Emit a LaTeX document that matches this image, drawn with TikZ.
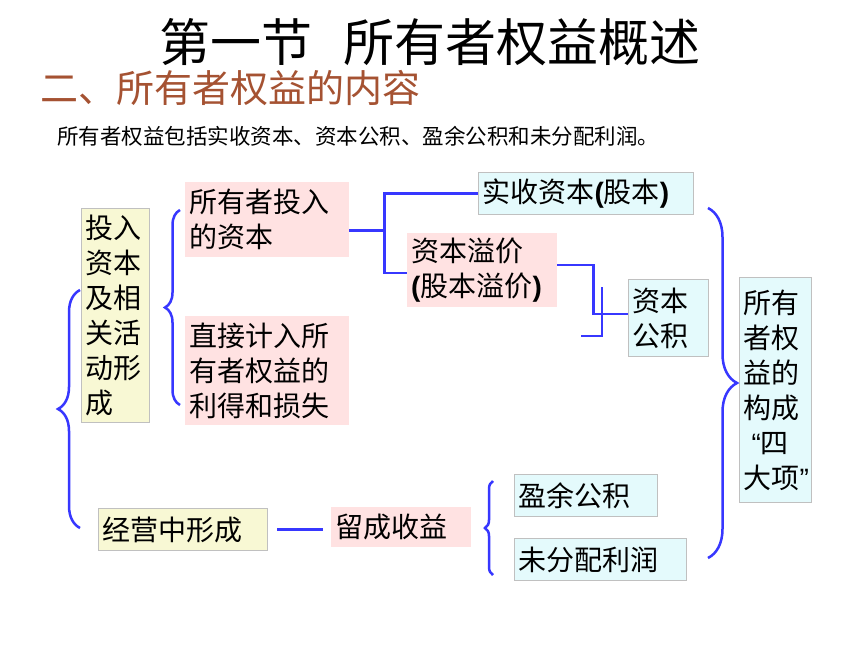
\documentclass[tikz,border=0pt]{standalone}
\usepackage{fontspec}
\setmainfont{Noto Sans CJK SC}
\newfontfamily\latinfont{Liberation Sans}
\usetikzlibrary{calc}
\usetikzlibrary{decorations.pathreplacing}
\definecolor{lineblue}{RGB}{55,55,255}
\definecolor{pinkfill}{RGB}{255,226,226}
\definecolor{yellowfill}{RGB}{248,248,212}
\definecolor{cyanfill}{RGB}{228,250,252}
\definecolor{boxgray}{RGB}{192,192,192}
\definecolor{titlebrown}{RGB}{165,82,50}
\tikzstyle{link}=[draw=lineblue, line width=2.5pt]
\tikzstyle{cell}=[anchor=north west, inner xsep=4pt, inner ysep=0pt, align=left, font=\fontsize{28}{35}\selectfont]
\tikzstyle{pinkcell}=[cell, fill=pinkfill]
\tikzstyle{yellowcell}=[cell, fill=yellowfill, draw=boxgray, line width=1pt]
\tikzstyle{cyancell}=[cell, fill=cyanfill, draw=boxgray, line width=1pt]
\newcommand{\curly}[3]{% Syntax: {start}{end}{amplitude}, the brace bulges to the left of start->end
  \draw[link, decorate, decoration={brace, amplitude=#3}] (#1) -- (#2);
}
\newcommand{\opar}{{\latinfont\bfseries (}}
\newcommand{\cpar}{{\latinfont\bfseries )}}
\newcommand{\openq}{{\latinfont “}}
\newcommand{\closeq}{{\latinfont ”}}

\begin{document}
\begin{tikzpicture}[x=1pt, y=-1pt]
	\fill[white] (0,0) rectangle (860,645);
	\useasboundingbox (0,0) rectangle (860,645);
	% headings
	\node[font=\fontsize{51}{60}\selectfont, inner sep=0pt] (title) at (430,42) {第一节\hspace{0.6em}所有者权益概述};
	\node[font=\fontsize{38}{44}\selectfont, text=titlebrown, anchor=west, inner sep=0pt] (subtitle) at (40,88) {二、所有者权益的内容};
	\node[font=\fontsize{21.5}{26}\selectfont, anchor=west, inner sep=0pt] (intro) at (57,136) {所有者权益包括实收资本、资本公积、盈余公积和未分配利润。};
	% left column
	\node[yellowcell, text width=60pt, minimum height=214pt] (invest) at (81,208) {投入\\资本\\及相\\关活\\动形\\成};
	\node[yellowcell, text width=161pt, minimum height=42pt] (oper) at (98,508) {经营中形成};
	\node[pinkcell, text width=156pt, minimum height=75pt] (own) at (185,182) {所有者投入\\的资本};
	\node[pinkcell, text width=156pt, minimum height=109pt] (direct) at (185,316) {直接计入所\\有者权益的\\利得和损失};
	\node[pinkcell, text width=132pt, minimum height=40pt] (retained) at (331,507) {留成收益};
	% middle column
	\node[cyancell, text width=207pt, minimum height=42pt] (paid) at (478,172) {实收资本\opar 股本\cpar};
	\node[pinkcell, text width=142pt, minimum height=74pt] (prem) at (407,233) {资本溢价\\\opar 股本溢价\cpar};
	\node[cyancell, text width=72pt, minimum height=77pt] (capres) at (628,279) {资本\\公积};
	\node[cyancell, text width=135pt, minimum height=42pt] (surplus) at (514,474) {盈余公积};
	\node[cyancell, text width=164pt, minimum height=42pt] (undist) at (514,538) {未分配利润};
	% right column
	\node[cyancell, text width=64pt, minimum height=225pt] (four) at (739,277) {所有\\者权\\益的\\构成\\\hspace*{8pt}\openq 四\\大项\closeq};
	% braces
	\coordinate (outerlow) at (80,528);
	\coordinate (outerhigh) at (80,290);
	\coordinate (innerlow) at (180,405);
	\coordinate (innerhigh) at (180,210);
	\coordinate (keeplow) at (493,575);
	\coordinate (keephigh) at (493,481);
	\coordinate (sumhigh) at (708,208);
	\coordinate (sumlow) at (708,558);
	\curly{outerlow}{outerhigh}{22pt}
	\curly{innerlow}{innerhigh}{15pt}
	\curly{keeplow}{keephigh}{8pt}
	\curly{sumhigh}{sumlow}{29pt}
	% connectors
	\draw[link] ([yshift=-11pt]own.east) -- ++(35,0) coordinate (fork) |- (paid.west);
	\draw[link] (fork) |- ([yshift=-3pt]prem.west);
	\draw[link] ([yshift=5pt]prem.east) -- ++(36,0) |- ([yshift=4pt]capres.west);
	\coordinate (stub) at (581,336);
	\coordinate (stubtop) at (602,287);
	\draw[link] (stub) -| (stubtop);
	\draw[link, shorten <=9pt, shorten >=8pt] (oper.east) -- (oper.east -| retained.west);
\end{tikzpicture}
\end{document}
